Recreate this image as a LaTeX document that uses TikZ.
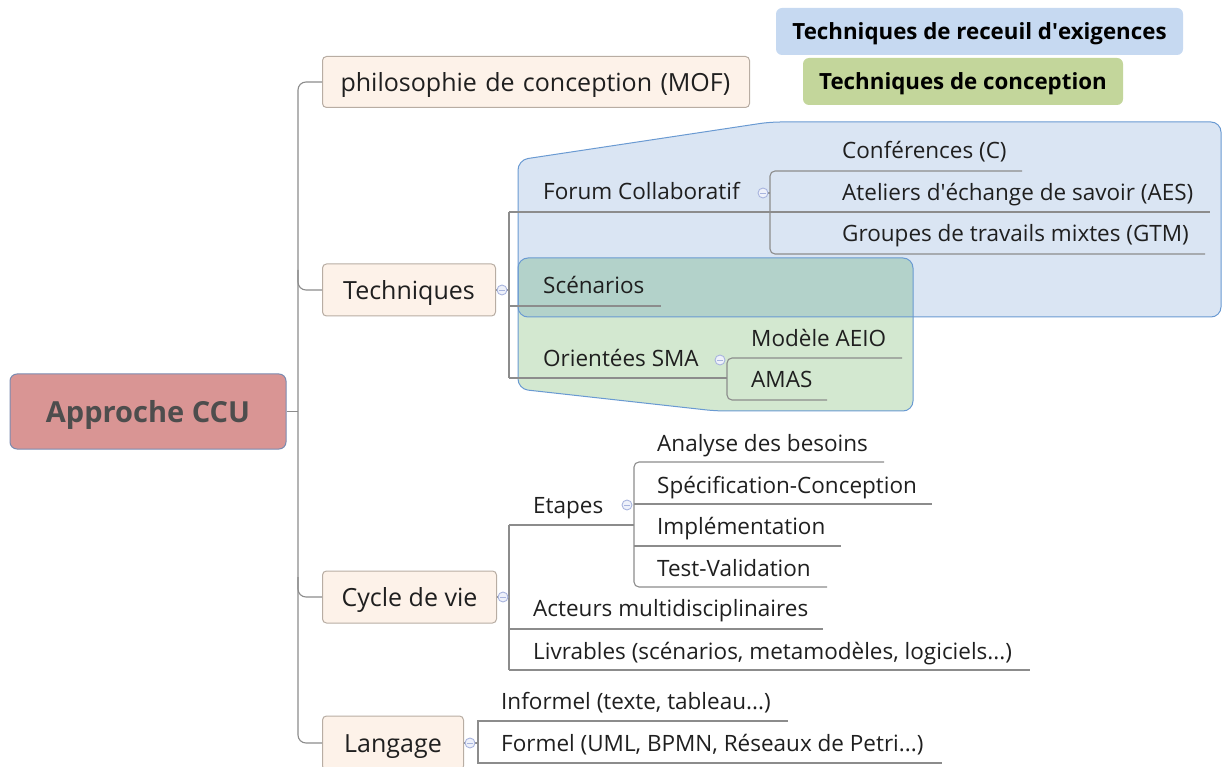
\documentclass[tikz,border=0pt]{standalone}
\usepackage{fontspec}
\setmainfont{Open Sans}
\usetikzlibrary{calc}
\definecolor{peach}{HTML}{FDF2E9}
\definecolor{peachb}{HTML}{B8ADA3}
\definecolor{rootf}{HTML}{D99594}
\definecolor{rootb}{HTML}{7B8BB0}
\definecolor{roott}{HTML}{4D4D4D}
\definecolor{linec}{HTML}{8C8C8C}
\definecolor{bluef}{HTML}{DAE5F3}
\definecolor{blueb}{HTML}{6A9AD2}
\definecolor{greenf}{HTML}{D3E8D0}
\definecolor{tealf}{HTML}{B3D2CA}
\definecolor{legblue}{HTML}{C6D9F1}
\definecolor{leggreen}{HTML}{C3D69B}
\definecolor{txt}{HTML}{1F1F1F}
\definecolor{markc}{HTML}{A8B4DE}
\definecolor{markf}{HTML}{EEF1FA}
\tikzset{
  branchbox/.style={draw=peachb, fill=peach, rounded corners=4pt, line width=1pt, anchor=west, inner sep=0pt, text=txt, text height=19pt, text depth=0pt, font=\fontsize{25}{29}\selectfont},
  leaf/.style={anchor=west, inner sep=0pt, text height=16pt, text depth=0pt, text=txt, font=\fontsize{22.5}{26}\selectfont},
  conn/.style={draw=linec, line width=1.1pt},
  legend/.style={rounded corners=6pt, inner sep=0pt, text height=16pt, text depth=0pt, font=\bfseries\fontsize{22.3}{26}\selectfont, text=black},
}
\newcommand{\mkcollapse}[1]{%
  \draw[markc, fill=markf, line width=0.9pt] (#1) circle (5pt);
  \draw[markc, line width=0.9pt] ($(#1)+(-2.6,0)$) -- ($(#1)+(2.6,0)$);}
\begin{document}
\begin{tikzpicture}[x=1pt,y=-1pt]
\useasboundingbox (0,0) rectangle (1227,767);
\clip (0,0) rectangle (1227,767);
% regions
\fill[bluef, rounded corners=10pt] (518,317) -- (518,160) -- (770,122) -- (1221,122) -- (1221,317) -- cycle;
\fill[greenf, rounded corners=10pt] (518,258) -- (913,258) -- (913,411) -- (716,411) -- (518,389) -- cycle;
\begin{scope}
\clip[rounded corners=10pt] (518,317) -- (518,160) -- (770,122) -- (1221,122) -- (1221,317) -- cycle;
\fill[tealf, rounded corners=10pt] (518,258) -- (913,258) -- (913,411) -- (716,411) -- (518,389) -- cycle;
\end{scope}
\draw[blueb, line width=1pt, rounded corners=10pt] (518,317) -- (518,160) -- (770,122) -- (1221,122) -- (1221,317) -- cycle;
\draw[blueb, line width=1pt, rounded corners=10pt] (518,258) -- (913,258) -- (913,411) -- (716,411) -- (518,389) -- cycle;

% legend
\node[legend, fill=legblue, minimum width=407pt, minimum height=47pt] (legA) at (979.5,31.5) {Techniques de receuil d\textquotesingle exigences};
\node[legend, fill=leggreen, minimum width=320pt, minimum height=47pt] (legB) at (963,81.5) {Techniques de conception};

% root
\node[draw=rootb, fill=rootf, rounded corners=7pt, line width=1pt, minimum width=276pt, minimum height=75pt, inner sep=0pt, text height=21pt, text depth=0pt, font=\bfseries\fontsize{29}{34}\selectfont, text=roott] (root) at (148,411.5) {Approche CCU};

% branch boxes
\node[branchbox, minimum width=427pt, minimum height=51pt, text width=427pt] (philo) at (322,82) {\hspace*{18pt}philosophie de conception (MOF)};
\node[branchbox, minimum width=173pt, minimum height=52pt, align=center] (tech) at (322,290) {Techniques};
\node[branchbox, minimum width=174pt, minimum height=52pt, align=center] (cycle) at (322,597) {Cycle de vie};
\node[branchbox, minimum width=141pt, minimum height=54pt, align=center] (lang) at (322,743) {Langage};

% trunk
\draw[conn] (root.east) -- (298,411.5);
\draw[conn, rounded corners=8pt] (philo.west) -- (298,82) -- (298,743) -- (lang.west);
\draw[conn, rounded corners=8pt] (298,270) |- (tech.west);
\draw[conn, rounded corners=8pt] (298,577) |- (cycle.west);

% Techniques subtree
\draw[conn] (tech.east) -- (509,290);
\draw[conn] (509,212) -- (509,378);
\node[leaf] (forum) at (543,192) {Forum Collaboratif};
\node[leaf] (scen) at (543,286) {Scénarios};
\node[leaf] (sma) at (543,359) {Orientées SMA};
\draw[conn] (509,212) -- (1210,212);
\draw[conn] (509,306) -- (661,306);
\draw[conn] (509,378) -- (727,378);
\draw[conn] (766,193) -- (770,193);
\draw[conn, rounded corners=5pt] (1022,171) -- (770,171) -- (770,254) -- (1205,254);
\node[leaf] (conf) at (842,151) {Conférences (C)};
\node[leaf] (aes) at (842,193) {Ateliers d\textquotesingle échange de savoir (AES)};
\node[leaf] (gtm) at (842,234) {Groupes de travails mixtes (GTM)};
\draw[conn, rounded corners=5pt] (902,358) -- (727,358) -- (727,400) -- (827,400);
\node[leaf] (aeio) at (751,339) {Modèle AEIO};
\node[leaf] (amas) at (751,380) {AMAS};

% Cycle de vie subtree
\draw[conn] (cycle.east) -- (509,597);
\draw[conn] (509,525) -- (509,670);
\node[leaf] (etapes) at (533,505) {Etapes};
\node[leaf] (acteurs) at (533,608) {Acteurs multidisciplinaires};
\node[leaf] (livr) at (533,651) {Livrables (scénarios, metamodèles, logiciels...)};
\draw[conn] (509,525) -- (634,525);
\draw[conn] (509,629) -- (823,629);
\draw[conn] (509,670) -- (1030,670);
\draw[conn, rounded corners=5pt] (884,462) -- (634,462) -- (634,587) -- (827,587);
\draw[conn] (634,504) -- (932,504);
\draw[conn] (634,546) -- (841,546);
\node[leaf] (analyse) at (657,443) {Analyse des besoins};
\node[leaf] (spec) at (657,485) {Spécification-Conception};
\node[leaf] (impl) at (657,526) {Implémentation};
\node[leaf] (test) at (657,568) {Test-Validation};

% Langage subtree
\draw[conn] (lang.east) -- (478,743);
\draw[conn] (788,721) -- (478,721) -- (478,763) -- (942,763);
\node[leaf] (inf) at (501,701) {Informel (texte, tableau...)};
\node[leaf] (form) at (501,743) {Formel (UML, BPMN, Réseaux de Petri...)};

% collapse markers
\mkcollapse{502,290}
\mkcollapse{503,597}
\mkcollapse{470,743}
\mkcollapse{763,193}
\mkcollapse{720,360}
\mkcollapse{627,505}
\end{tikzpicture}
\end{document}
